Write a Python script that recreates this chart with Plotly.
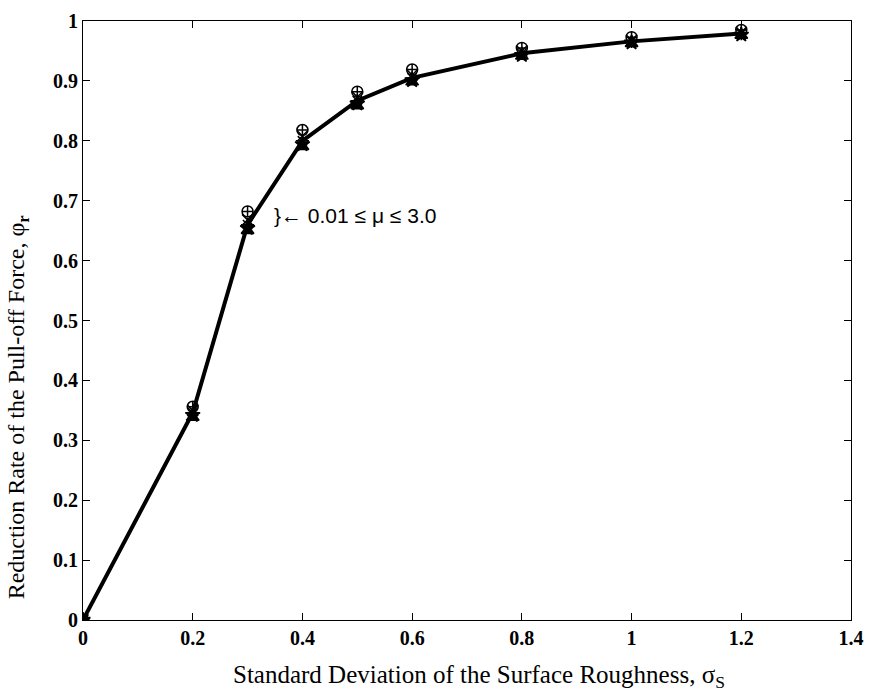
import plotly.graph_objects as go

sigma = [0, 0.2, 0.3, 0.4, 0.5, 0.6, 0.8, 1.0, 1.2]
mu_labels = ["μ=0.01", "μ=0.1", "μ=0.5", "μ=1.0", "μ=3.0"]
phi_mu001 = [0, 0.356, 0.682, 0.818, 0.882, 0.919, 0.955, 0.973, 0.985]
phi_mu01 = [0, 0.350, 0.668, 0.808, 0.873, 0.910, 0.950, 0.968, 0.981]
phi_mu05 = [0, 0.346, 0.660, 0.800, 0.867, 0.905, 0.946, 0.966, 0.979]
phi_mu10 = [0, 0.342, 0.654, 0.794, 0.862, 0.901, 0.943, 0.964, 0.977]
phi_mu30 = [0, 0.338, 0.650, 0.790, 0.858, 0.898, 0.941, 0.962, 0.976]
series = [phi_mu001, phi_mu01, phi_mu05, phi_mu10, phi_mu30]
symbols = ["circle-cross-open", "x-thin-open", "asterisk-open", "star", "triangle-up"]

x_ticks = [0, 0.2, 0.4, 0.6, 0.8, 1.0, 1.2, 1.4]
x_ticktext = ["0", "0.2", "0.4", "0.6", "0.8", "1", "1.2", "1.4"]
y_ticks = [0, 0.1, 0.2, 0.3, 0.4, 0.5, 0.6, 0.7, 0.8, 0.9, 1.0]
y_ticktext = ["0", "0.1", "0.2", "0.3", "0.4", "0.5", "0.6", "0.7", "0.8", "0.9", "1"]

fig = go.Figure()
# common thick curve (all μ curves coincide visually)
fig.add_trace(go.Scatter(
    x=sigma, y=phi_mu05, mode="lines",
    line=dict(color="black", width=4), showlegend=False, hoverinfo="skip",
))
for name, vals, sym in zip(mu_labels, series, symbols):
    fig.add_trace(go.Scatter(
        x=sigma, y=vals, name=name, mode="markers",
        marker=dict(symbol=sym, size=11, color="black",
                    line=dict(color="black", width=1.5)),
        showlegend=False,
    ))

serif = "Liberation Serif, Times New Roman, serif"
axis_common = dict(
    showline=True, linecolor="black", linewidth=1, mirror="ticks",
    ticks="inside", ticklen=7, tickwidth=1, tickcolor="black",
    showgrid=False, zeroline=False,
    tickfont=dict(family=serif, size=20, color="black", weight="bold"),
)
fig.update_xaxes(range=[0, 1.4], tickvals=x_ticks, ticktext=x_ticktext, **axis_common)
fig.update_yaxes(range=[0, 1.0], tickvals=y_ticks, ticktext=y_ticktext, **axis_common)

fig.add_annotation(
    x=0.3, y=0.676, xref="x", yref="y", xanchor="left", yanchor="middle",
    xshift=24, showarrow=False,
    text="}← 0.01 ≤ μ ≤ 3.0",
    font=dict(family="Liberation Sans, Arial, sans-serif", size=21, color="black"),
)
fig.add_annotation(
    x=0.5, y=0, xref="paper", yref="paper", xanchor="center", yanchor="middle",
    xshift=12, yshift=-56, showarrow=False,
    text="Standard Deviation of the Surface Roughness, σ<sub>S</sub>",
    font=dict(family=serif, size=25, color="black"),
)
fig.add_annotation(
    x=0, y=0.355, xref="paper", yref="paper", xanchor="center", yanchor="middle",
    xshift=-65, showarrow=False, textangle=-90,
    text="Reduction Rate of the Pull-off Force, φ<sub><b>r</b></sub>",
    font=dict(family=serif, size=24, color="black"),
)

fig.update_layout(
    width=874, height=700,
    margin=dict(l=83, r=20, t=10, b=80),
    paper_bgcolor="white", plot_bgcolor="white",
)
fig.write_html("out.html")
